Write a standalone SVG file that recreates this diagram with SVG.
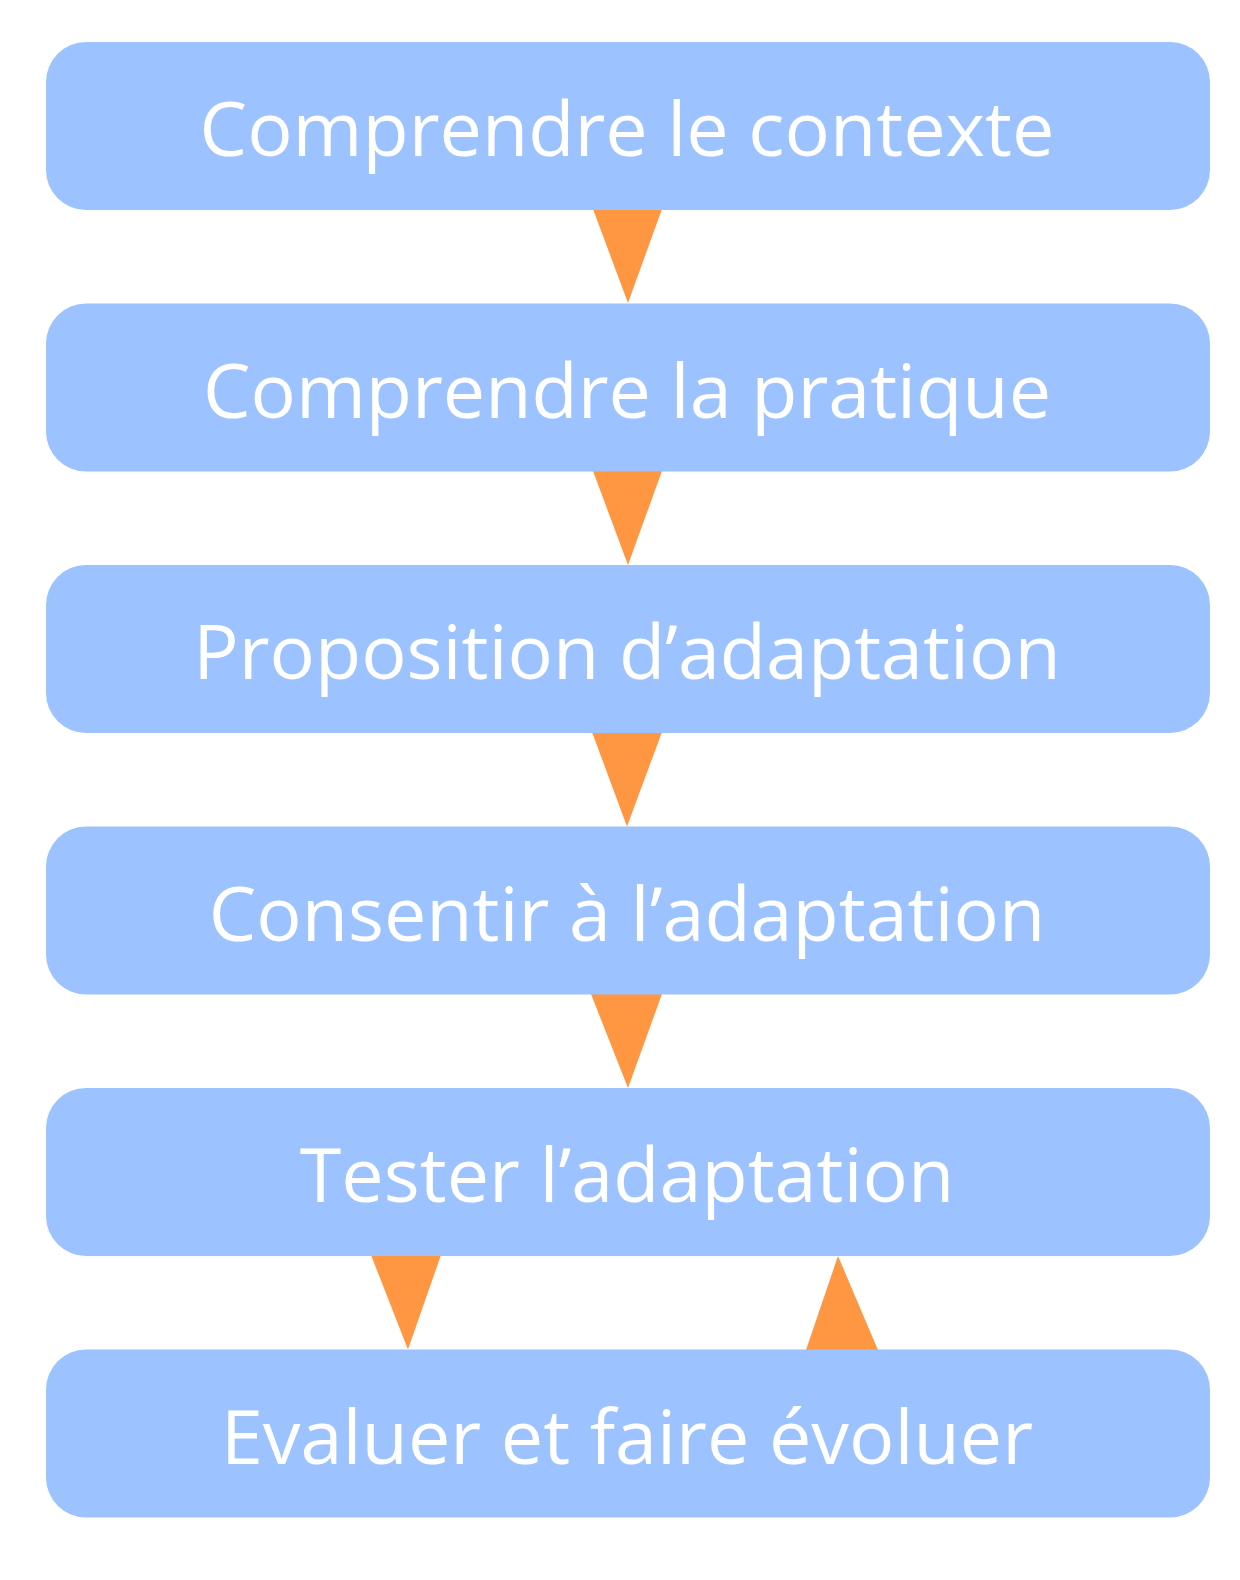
<svg xmlns="http://www.w3.org/2000/svg" width="1240" height="1580" viewBox="0 0 1240 1580">
<style>
.box{fill:#9cc2ff}
.lbl{font-family:"Open Sans","Noto Sans",sans-serif;font-size:75.5px;fill:#ffffff;text-anchor:middle}
.arr{fill:#ff9641}
</style>
<rect width="1240" height="1580" fill="#ffffff"/>
<g id="connectors">
<polygon class="arr" points="593,209 662,209 628,303"/>
<polygon class="arr" points="593,471 662,471 628,565"/>
<polygon class="arr" points="592,732 662,732 627,826.5"/>
<polygon class="arr" points="591,994 662,994 628,1088"/>
<polygon class="arr" points="371,1255 441,1255 408,1349.5"/>
<polygon class="arr" points="838,1256 806,1350 878,1350"/>
</g>
<g id="n1"><rect class="box" x="46" y="42" width="1164" height="168" rx="40"/><text class="lbl" x="627" y="156">Comprendre le contexte</text></g>
<g id="n2"><rect class="box" x="46" y="303.5" width="1164" height="168" rx="40"/><text class="lbl" x="627" y="417.5">Comprendre la pratique</text></g>
<g id="n3"><rect class="box" x="46" y="565" width="1164" height="168" rx="40"/><text class="lbl" x="627" y="679">Proposition d’adaptation</text></g>
<g id="n4"><rect class="box" x="46" y="826.5" width="1164" height="168" rx="40"/><text class="lbl" x="627" y="940.5">Consentir à l’adaptation</text></g>
<g id="n5"><rect class="box" x="46" y="1088" width="1164" height="168" rx="40"/><text class="lbl" x="627" y="1202">Tester l’adaptation</text></g>
<g id="n6"><rect class="box" x="46" y="1349.5" width="1164" height="168" rx="40"/><text class="lbl" x="627" y="1463.5">Evaluer et faire évoluer</text></g>
</svg>
